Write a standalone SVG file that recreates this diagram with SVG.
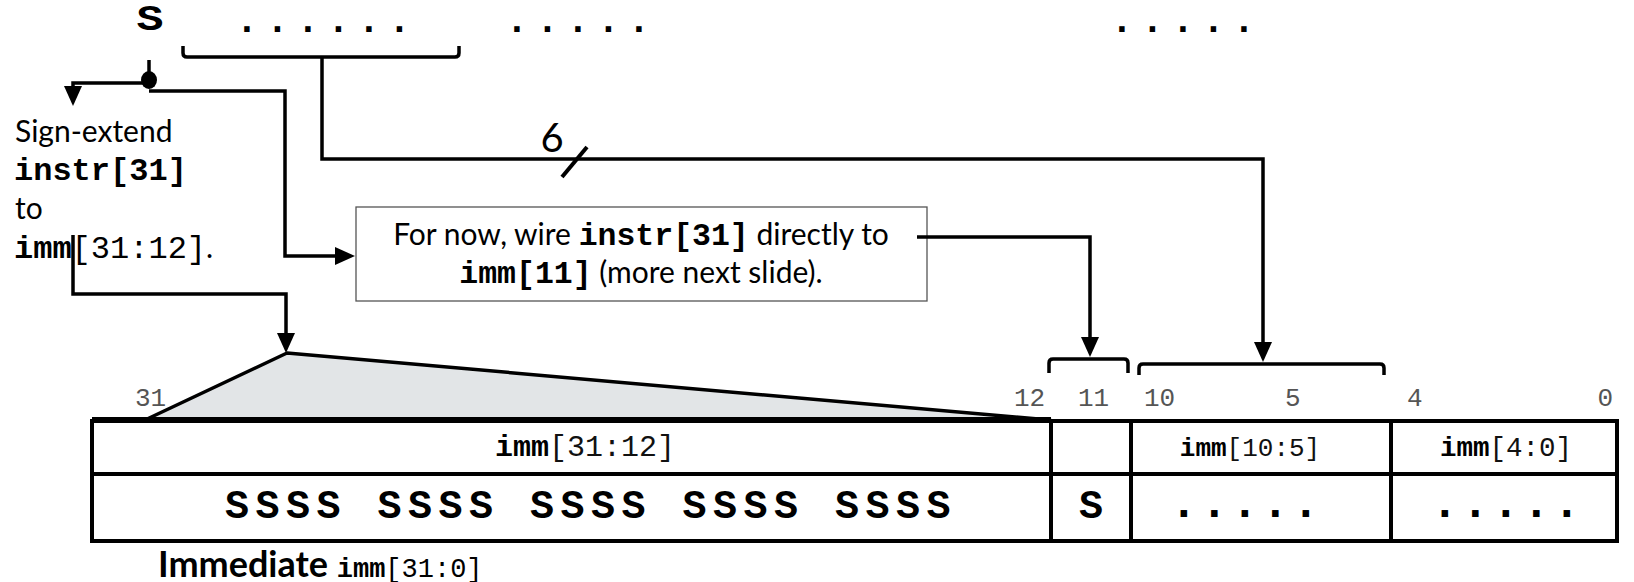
<svg xmlns="http://www.w3.org/2000/svg" width="1634" height="582" viewBox="0 0 1634 582">
<style>
.w{fill:none;stroke:#000;stroke-width:3.5;stroke-linejoin:miter}
.mb{font-family:"Liberation Mono","Courier New",monospace;font-weight:bold;fill:#000}
.mr{font-family:"Liberation Mono","Courier New",monospace;font-weight:normal}
.sans{font-family:Lato,"Open Sans",sans-serif;fill:#000}
.bit{font-family:"Liberation Mono","Courier New",monospace;font-size:26px;fill:#555}
.grid{fill:none;stroke:#000;stroke-width:4}
.dots{font-family:"Liberation Mono","Courier New",monospace;font-weight:bold;font-size:38px;letter-spacing:7.7px;fill:#000}
</style>
<defs>
<marker id="ah" markerWidth="20" markerHeight="18" refX="12" refY="9" orient="auto" markerUnits="userSpaceOnUse">
<path d="M0,0 L20,9 L0,18 z" fill="#000"/>
</marker>
</defs>

<g id="instr-bits">
<text class="mb" font-size="36" text-anchor="middle" transform="translate(150,30) scale(1.25,1)">S</text>
<text class="dots" x="235.5" y="32">......</text>
<text class="dots" x="505.5" y="32">.....</text>
<text class="dots" x="1110.5" y="32">.....</text>
<path class="w" d="M183,46 V53 Q183,57 187,57 H455 Q459,57 459,53 V46"/>
</g>

<g id="sign-extend-note">
<text class="sans" x="15" y="142" font-size="30">Sign-extend</text>
<text class="mb" x="14" y="180" font-size="32">instr[31]</text>
<text class="sans" x="15" y="219" font-size="30">to</text>
<text x="14" y="258" font-size="32"><tspan class="mb">imm</tspan><tspan class="mr" fill="#000">[31:12]</tspan><tspan class="sans" font-size="30">.</tspan></text>
</g>

<g id="wire-note">
<rect x="356" y="207" width="571" height="94" fill="#fff" stroke="#555" stroke-width="1.3"/>
<text class="sans" x="641" y="245" font-size="30" text-anchor="middle">For now, wire <tspan class="mb" font-size="31.5">instr[31]</tspan> directly to</text>
<text class="sans" x="641" y="283" font-size="30" text-anchor="middle"><tspan class="mb" font-size="31.5">imm[11]</tspan> (more next slide).</text>
</g>

<g id="bus-width">
<line x1="562" y1="177" x2="587" y2="147" stroke="#000" stroke-width="4"/>
<text class="sans" x="552" y="152" font-size="40" text-anchor="middle">6</text>
</g>

<g id="connectors">
<path class="w" d="M149,60 V80"/>
<ellipse cx="149" cy="80" rx="8" ry="9" fill="#000"/>
<path class="w" d="M149,83 H73 V98" marker-end="url(#ah)"/>
<path class="w" d="M149,91 H285 V256 H347" marker-end="url(#ah)"/>
<path class="w" d="M73,235 V294 H286 V345" marker-end="url(#ah)"/>
<path class="w" d="M322,57 V159 H1263 V354" marker-end="url(#ah)"/>
<path class="w" d="M917,237 H1090 V349" marker-end="url(#ah)"/>
</g>

<g id="braces">
<path class="w" d="M1049,373 V363 Q1049,359 1053,359 H1124 Q1128,359 1128,363 V373"/>
<path class="w" d="M1139,375 V368 Q1139,364 1143,364 H1380 Q1384,364 1384,368 V375"/>
</g>

<g id="extend-triangle">
<polygon points="145,420 287,353 1050,420" fill="#e2e5e7" stroke="#000" stroke-width="3.5" stroke-linejoin="round"/>
</g>

<g id="bit-numbers">
<text class="bit" x="135" y="406">31</text>
<text class="bit" x="1014" y="406">12</text>
<text class="bit" x="1078" y="406">11</text>
<text class="bit" x="1144" y="406">10</text>
<text class="bit" x="1285" y="406">5</text>
<text class="bit" x="1407" y="406">4</text>
<text class="bit" x="1613" y="406" text-anchor="end">0</text>
</g>

<g id="imm-table">
<rect class="grid" x="92" y="421" width="1525" height="120"/>
<line class="grid" x1="92" y1="474" x2="1617" y2="474"/>
<line class="grid" x1="1051" y1="421" x2="1051" y2="541"/>
<line class="grid" x1="1131" y1="421" x2="1131" y2="541"/>
<line class="grid" x1="1391" y1="421" x2="1391" y2="541"/>
<line x1="92" y1="420" x2="1051" y2="420" stroke="#000" stroke-width="6"/>
<text x="585" y="456" font-size="30" text-anchor="middle" fill="#111"><tspan class="mb">imm</tspan><tspan class="mr">[31:12]</tspan></text>
<text x="1250" y="456" font-size="26" text-anchor="middle" fill="#111"><tspan class="mb">imm</tspan><tspan class="mr">[10:5]</tspan></text>
<text x="1506" y="456" font-size="27.5" text-anchor="middle" fill="#111"><tspan class="mb">imm</tspan><tspan class="mr">[4:0]</tspan></text>
<text class="mb" x="225" y="518" font-size="40" letter-spacing="6.5">SSSS SSSS SSSS SSSS SSSS</text>
<text class="mb" x="1091" y="518" font-size="40" text-anchor="middle">S</text>
<text class="mb" x="1170" y="517" font-size="46" letter-spacing="2.9">.....</text>
<text class="mb" x="1431" y="517" font-size="46" letter-spacing="2.9">.....</text>
</g>

<g id="caption">
<text class="sans" x="158" y="577" font-size="36" font-weight="bold">Immediate <tspan class="mb" font-size="27">imm</tspan><tspan class="mr" font-size="27" font-weight="bold">[31:0]</tspan></text>
</g>
</svg>
